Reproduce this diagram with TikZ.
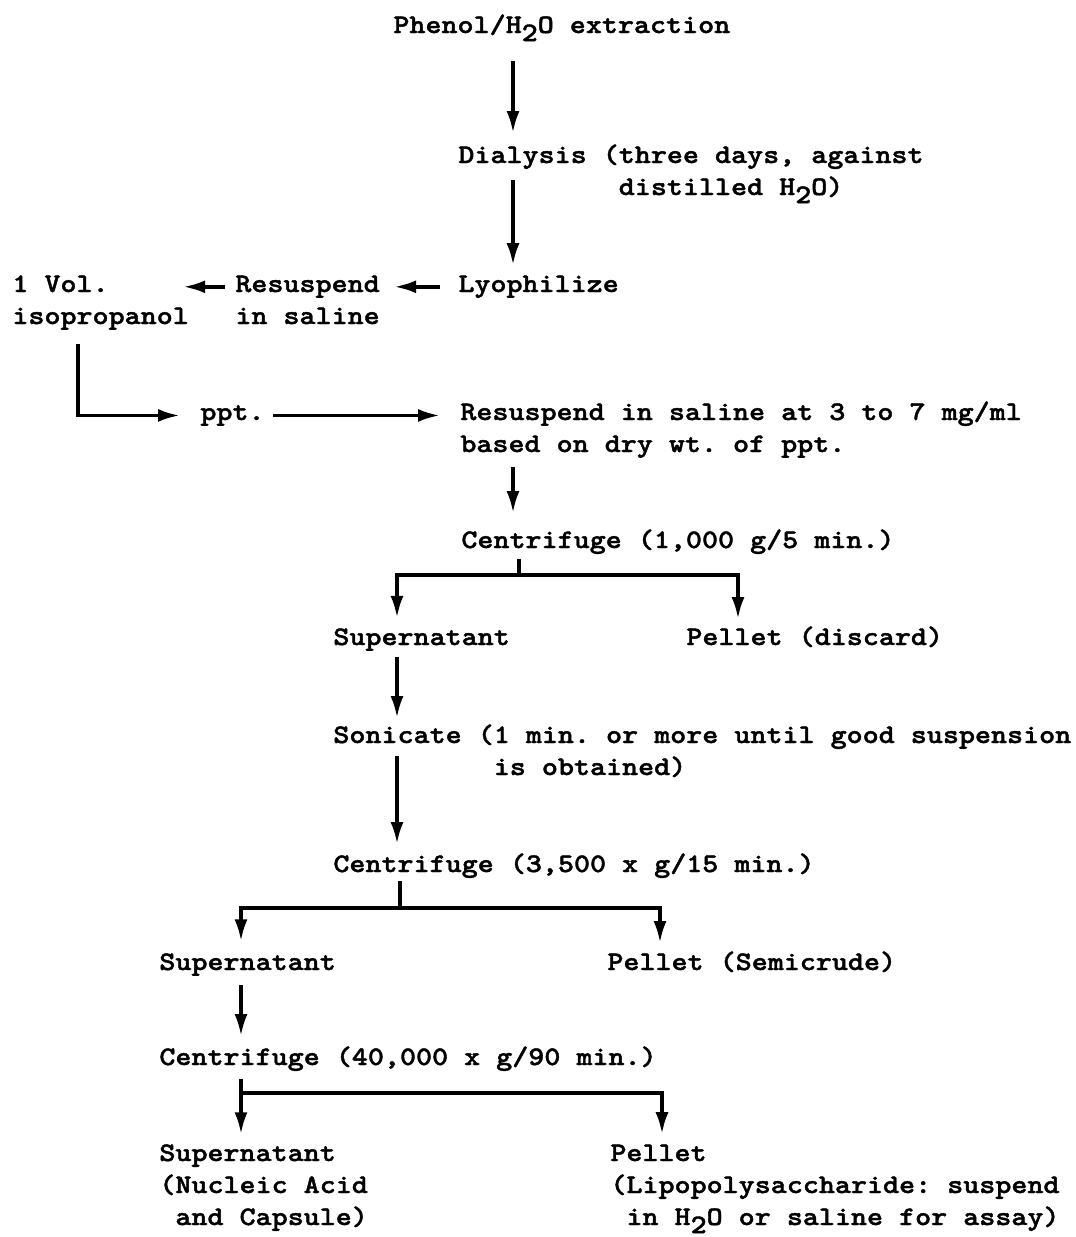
\documentclass[tikz,border=0pt]{standalone}
\usepackage{fontspec}
\usetikzlibrary{arrows.meta, positioning}
\newfontfamily\typefont{lmmonolt10-bold.otf}[FakeStretch=1.14, FakeBold=1.5]
\newcommand\subtwo{\raisebox{-0.7ex}{2}}

\begin{document}
\begin{tikzpicture}[
  x=0.5pt, y=-0.5pt,
  stage/.style={inner sep=0pt, anchor=base west, align=left, font={\typefont\fontsize{13.4}{16}\selectfont\frenchspacing}},
  flow/.style={line width=1.8pt, -{Latex[length=11pt, width=6.5pt]}},
  link/.style={line width=1.8pt},
]
\useasboundingbox (0,0) rectangle (1076,1237);

% steps (multi-line nodes sit on their last line)
\node[stage] (phenol) at (393,33) {Phenol/H\subtwo O extraction};
\node[stage] (dialysis) at (458,195) {Dialysis (three days, against\\\phantom{Dialysis (}distilled H\subtwo O)};
\node[stage] (lyo) at (458,292) {Lyophilize};
\node[stage] (resus) at (235,324) {Resuspend\\in saline};
\node[stage] (vol) at (12,324) {1 Vol.\\isopropanol};
\node[stage] (ppt) at (200,420) {ppt.};
\node[stage] (resal) at (460,452) {Resuspend in saline at 3 to 7 mg/ml\\based on dry wt. of ppt.};
\node[stage] (cent1) at (461,548) {Centrifuge (1,000 g/5 min.)};
\node[stage] (sup1) at (333,645) {Supernatant};
\node[stage] (pel1) at (686,645) {Pellet (discard)};
\node[stage] (soni) at (333,775) {Sonicate (1 min. or more until good suspension\\\phantom{Sonicate (}is obtained)};
\node[stage] (cent2) at (333,872) {Centrifuge (3,500 x g/15 min.)};
\node[stage] (sup2) at (159,970) {Supernatant};
\node[stage] (pel2) at (607,970) {Pellet (Semicrude)};
\node[stage] (cent3) at (159,1065) {Centrifuge (40,000 x g/90 min.)};
\node[stage] (sup3) at (159,1225) {Supernatant\\(Nucleic Acid\\\phantom{(}and Capsule)};
\node[stage] (pel3) at (610,1225) {Pellet\\(Lipopolysaccharide: suspend\\\phantom{(}in H\subtwo O or saline for assay)};

% columns and junctions
\coordinate (xa) at (513,0);
\coordinate (xb) at (397,0);
\coordinate (xc) at (241,0);
\coordinate (xd) at (738,0);
\coordinate (xe) at (660,0);
\coordinate (xf) at (662,0);
\coordinate (j1) at (519,575);
\coordinate (j2) at (400,908);
\coordinate (j3) at (241,1093);

% arrows
\draw[flow, shorten <=10pt, shorten >=5.5pt] (phenol.south -| xa) -- (dialysis.north -| xa);
\draw[flow, shorten <=18pt, shorten >=5pt] (dialysis.north -| xa) -- (lyo.north -| xa);
\draw[flow, shorten <=9pt, shorten >=7pt] (lyo.west) -- (lyo.west -| resus.east);
\draw[flow, shorten <=5pt, shorten >=-3pt] (lyo.west -| resus.west) -- (lyo.west -| vol.east);
\draw[flow, shorten <=7pt, shorten >=10pt] ([xshift=33pt]vol.south west) |- (ppt.west);
\draw[flow, shorten <=4pt, shorten >=10pt] (ppt.east) -- (ppt.east -| resal.west);
\draw[flow, shorten <=4.5pt, shorten >=8pt] (resal.south -| xa) -- (cent1.north -| xa);

\draw[link, shorten <=2.5pt] (cent1.south -| j1) -- (j1);
\draw[flow, shorten >=5pt] (j1) -| (sup1.north -| xb);
\draw[flow, shorten >=3.5pt] (j1) -| (pel1.north -| xd);
\draw[flow, shorten <=3pt, shorten >=3pt] (sup1.south -| xb) -- (soni.north -| xb);
\draw[flow, shorten <=16pt, shorten >=4.5pt] (soni.north -| xb) -- (cent2.north -| xb);

\draw[link, shorten <=1.5pt] (cent2.south -| j2) -- (j2);
\draw[flow, shorten >=5.8pt] (j2) -| (sup2.north -| xc);
\draw[flow, shorten >=4pt] (j2) -| (pel2.north -| xe);
\draw[flow, shorten <=4.5pt, shorten >=5pt] (sup2.south -| xc) -- (cent3.north -| xc);

\draw[flow, shorten <=4pt, shorten >=4.8pt] (cent3.south -| xc) -- (sup3.north -| xc);
\draw[flow, shorten >=5pt] (j3) -| (pel3.north -| xf);
\end{tikzpicture}
\end{document}
